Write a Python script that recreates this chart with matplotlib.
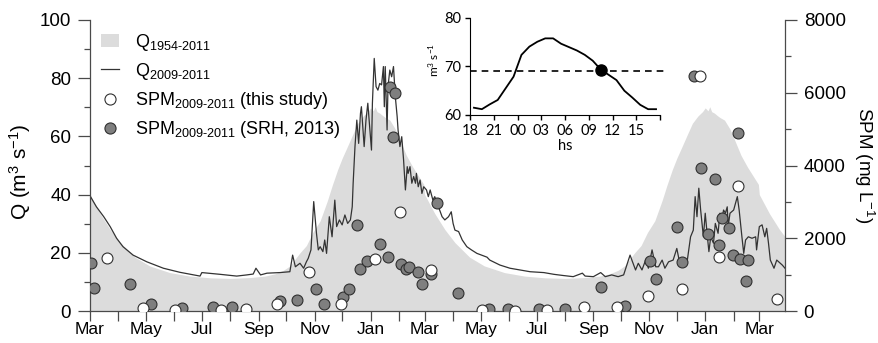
import numpy as np
import matplotlib.pyplot as plt
import matplotlib.dates as mdates
from matplotlib.patches import Patch
from matplotlib.lines import Line2D
from matplotlib.ticker import MultipleLocator, FuncFormatter

plt.rcParams['font.family'] = ['Liberation Sans', 'DejaVu Sans']
plt.rcParams['mathtext.fontset'] = 'custom'
plt.rcParams['mathtext.rm'] = 'Liberation Sans'
plt.rcParams['mathtext.it'] = 'Liberation Sans:italic'
plt.rcParams['mathtext.default'] = 'regular'

# days counted from 1 March 2009
start = np.datetime64('2009-03-01')

# Q 1954-2011 mean hydrograph (one hydrological year, from 1 March)
clim_day = [0, 11, 22, 33, 49, 65, 87, 109, 131, 153, 175, 191, 202, 211, 218, 229, 236,
            243, 251, 259, 264, 270, 275, 280, 287, 292, 298, 303, 306, 309, 311, 313, 316,
            319, 322, 327, 333, 338, 345, 352, 358, 364]
clim_q = [40.0, 33.5, 28.0, 23.5, 18.5, 15.5, 13.2, 12.0, 11.4, 11.2, 11.5, 12.0, 12.8,
          14.0, 15.5, 20.0, 22.5, 27.0, 31.0, 38.0, 43.0, 48.5, 52.5, 56.0, 61.0, 64.5,
          67.0, 68.5, 69.8, 68.8, 70.2, 68.5, 68.0, 67.2, 66.5, 65.6, 62.5, 58.8, 53.5,
          49.5, 46.5, 43.5]

# Q 2009-2011 daily discharge
q_day = [0, 7, 15, 22, 29, 36, 47, 62, 80, 98,
         120, 122, 142, 160, 171, 178, 181, 186, 193, 207,
         218, 221, 224, 229, 233, 236, 238, 241, 244, 247,
         249, 251, 254, 256, 258, 261, 264, 267, 269, 272,
         275, 278, 281, 284, 286, 287, 289, 291, 293, 295,
         296, 299, 301, 303, 305, 307, 308, 310, 312, 314,
         316, 318, 320, 321, 322, 324, 325, 327, 329, 331,
         333, 335, 336, 338, 340, 342, 344, 346, 347, 349,
         351, 353, 355, 356, 358, 360, 362, 364, 367, 369,
         371, 374, 376, 380, 384, 387, 391, 394, 396, 398,
         402, 406, 411, 416, 422, 427, 433, 436, 447, 458,
         469, 480, 495, 506, 516, 527, 537, 540, 549, 557,
         562, 569, 576, 582, 589, 595, 598, 602, 606, 609,
         613, 617, 620, 624, 627, 631, 636, 640, 644, 647,
         651, 655, 658, 660, 662, 664, 666, 669, 671, 673,
         675, 677, 680, 682, 685, 687, 689, 691, 693, 695,
         696, 698, 702, 706, 708, 711, 713, 715, 718, 722,
         726, 727, 730, 733, 736, 738, 740, 742, 746, 749,
         755, 758]
q_val = [39.6, 35.8, 32.4, 29.0, 25.0, 22.1, 19.2, 16.9, 14.7, 13.3,
         12.0, 13.2, 12.6, 12.0, 12.4, 12.7, 14.7, 12.4, 13.0, 13.2,
         13.5, 19.2, 15.2, 16.4, 14.7, 16.9, 18.1, 21.0, 37.6, 26.7,
         21.0, 22.1, 20.4, 24.4, 19.8, 32.4, 25.5, 38.1, 29.0, 31.3,
         29.6, 33.0, 30.1, 31.3, 35.8, 43.9, 56.5, 65.6, 57.6, 67.9,
         70.2, 56.5, 65.6, 71.4, 63.3, 55.3, 71.4, 86.8, 77.1, 75.9,
         78.2, 77.7, 84.0, 70.2, 84.0, 62.2, 77.1, 82.8, 80.5, 84.0,
         73.6, 66.8, 62.2, 56.5, 59.9, 51.9, 41.6, 49.6, 47.3, 49.6,
         43.9, 46.2, 43.9, 47.3, 42.7, 45.0, 40.4, 42.7, 41.6, 39.3,
         41.6, 38.1, 39.3, 35.8, 32.4, 31.3, 32.4, 34.1, 30.1, 27.8,
         27.3, 24.4, 22.1, 21.0, 19.8, 19.2, 18.5, 17.5, 15.8, 14.7,
         14.1, 13.5, 13.2, 12.6, 12.2, 11.8, 13.0, 12.0, 11.8, 13.2,
         11.8, 12.4, 11.8, 12.4, 19.2, 14.1, 16.4, 14.1, 17.5, 14.7,
         21.0, 15.2, 15.2, 17.5, 14.7, 16.9, 17.5, 21.5, 15.2, 17.5,
         16.4, 25.5, 27.8, 39.3, 32.4, 42.2, 34.7, 25.5, 33.6, 26.7,
         20.4, 25.5, 23.3, 30.1, 26.7, 33.6, 31.3, 34.7, 33.6, 35.8,
         29.0, 33.6, 34.7, 39.3, 34.7, 25.5, 19.8, 24.4, 25.5, 25.0,
         25.5, 21.0, 29.0, 29.6, 25.5, 28.4, 23.3, 17.5, 14.7, 17.5,
         15.8, 14.7]

# SPM (mg/L) - this study
spm_this_day = [19, 58, 93, 143, 170, 204, 239, 274, 311, 338, 372, 427, 464, 498, 539,
                575, 609, 646, 665, 686, 707, 749]
spm_this = [1449, 74, 27, 27, 55, 192, 1064, 192, 1438, 2730, 1127, 40, 9, 27, 119,
            119, 421, 605, 6460, 1476, 3445, 322]

# SPM (mg/L) - SRH 2013
spm_srh_day = [1, 4, 44, 66, 100, 134, 155, 207, 226, 246, 255, 276, 283, 291, 295, 302,
               316, 325, 327, 331, 333, 339, 345, 348, 358, 362, 372, 378, 401, 435, 456,
               490, 518, 557, 583, 611, 617, 640, 646, 659, 666, 674, 682, 686, 689, 697,
               701, 707, 709, 715, 718]
spm_srh = [1328, 641, 751, 183, 92, 110, 110, 266, 293, 605, 202, 376, 605, 2364, 1146,
           1383, 1833, 1484, 6149, 4775, 5985, 1292, 1146, 1218, 1080, 734, 1009, 2977,
           504, 47, 47, 64, 47, 651, 137, 1383, 871, 2300, 1347, 6460, 3923, 2117, 3621,
           1814, 2566, 2291, 1540, 4901, 1421, 833, 1402]

# inset: hourly discharge over one day
hour = [18.5, 19.5, 20.5, 21.5, 22.5, 23.5, 24.5, 25.5, 26.5, 27.5, 28.5, 29.5,
        30.5, 31.5, 32.5, 33.5, 34.5, 35.5, 36.5, 37.5, 38.5, 39.5, 40.5, 41.5]
hour_q = [61.5, 61.2, 62.2, 63.1, 65.5, 67.9, 72.4, 74.1, 75.1, 75.8, 75.8, 74.7,
          74.0, 73.3, 72.4, 71.2, 69.4, 68.3, 67.2, 65.0, 63.6, 62.1, 61.2, 61.2]
q_mean = 69.1
sample_hour = 34.5
sample_q = 69.2
hour_ticks = [18, 21, 24, 27, 30, 33, 36, 39, 42]
hour_labels = ['18', '21', '00', '03', '06', '09', '12', '15', '']


def to_dates(days):
    return start + np.array(days).astype('timedelta64[D]')


# repeat the mean year over the two plotted years
cd = np.array(clim_day)
cq = np.array(clim_q)
clim_all_day = np.concatenate([cd, cd + 365, cd[:5] + 730])
clim_all_q = np.concatenate([cq, cq, cq[:5]])

fig = plt.figure(figsize=(8.79, 3.43), dpi=100)
ax = fig.add_axes([90 / 879, 1 - 311 / 343, 695 / 879, 291 / 343])

ax.fill_between(to_dates(clim_all_day), 0, clim_all_q, color='#dcdcdc', lw=0)
ax.plot(to_dates(q_day), q_val, color='#333333', lw=0.9)
ax.set_ylim(0, 100)
ax.set_xlim(start, np.datetime64('2011-03-29'))

ax.xaxis.set_major_locator(mdates.MonthLocator())
ax.xaxis.set_major_formatter(FuncFormatter(
    lambda x, pos: mdates.num2date(x).strftime('%b') if mdates.num2date(x).month % 2 == 1 else ''))
ax.yaxis.set_major_locator(MultipleLocator(20))
ax.yaxis.set_minor_locator(MultipleLocator(10))

ax2 = ax.twinx()
ax2.scatter(to_dates(spm_srh_day), spm_srh, s=62, facecolor='#7f7f7f', edgecolor='#303030',
            lw=0.8, zorder=3)
ax2.scatter(to_dates(spm_this_day), spm_this, s=62, facecolor='white', edgecolor='#303030',
            lw=0.8, zorder=3)
ax2.set_ylim(0, 8000)
ax2.yaxis.set_major_locator(MultipleLocator(2000))
ax2.yaxis.set_minor_locator(MultipleLocator(1000))

for a in (ax, ax2):
    a.spines['top'].set_visible(False)
    for s in a.spines.values():
        s.set_color('#4a4a4a')
        s.set_linewidth(0.9)
    a.tick_params(which='major', direction='out', length=8.5, width=0.9, color='#4a4a4a',
                  labelsize=13.5, pad=5)
    a.tick_params(which='minor', direction='out', length=4.5, width=0.9, color='#4a4a4a')
ax.tick_params(axis='x', length=7, labelsize=12.5, pad=1)
ax.spines['right'].set_visible(False)
ax2.spines['left'].set_visible(False)
ax2.spines['bottom'].set_visible(False)

ax.set_ylabel(r'Q (m$^{3}$ s$^{-1}$)', fontsize=15)
ax.yaxis.set_label_coords(-0.082, 0.48)
ax2.set_ylabel(r'SPM (mg L$^{-1}$)', fontsize=13.5, rotation=270, va='bottom')
ax2.yaxis.set_label_coords(1.097, 0.5)

handles = [Patch(facecolor='#dcdcdc', edgecolor='none'),
           Line2D([], [], color='#333333', lw=0.9),
           Line2D([], [], ls='none', marker='o', ms=8, mfc='white', mec='#303030', mew=0.8),
           Line2D([], [], ls='none', marker='o', ms=8, mfc='#7f7f7f', mec='#303030', mew=0.8)]
labels = [r'Q$_{\text{1954-2011}}$', r'Q$_{\text{2009-2011}}$',
          r'SPM$_{\text{2009-2011}}$ (this study)', r'SPM$_{\text{2009-2011}}$ (SRH, 2013)']
ax2.legend(handles, labels, loc='upper left', bbox_to_anchor=(0.005, 0.985), frameon=False,
           fontsize=13, handlelength=1.0, handletextpad=0.9, labelspacing=0.45,
           borderaxespad=0)

# inset
axi = fig.add_axes([470 / 879, 1 - 115 / 343, 190 / 879, 97 / 343])
axi.patch.set_visible(False)
axi.plot(hour, hour_q, color='black', lw=1.3)
axi.axhline(q_mean, xmin=0, xmax=1.02, color='black', lw=1.2, ls=(0, (4, 3)), clip_on=False)
axi.plot([sample_hour], [sample_q], 'o', color='black', ms=8)
axi.set_xlim(18, 42)
axi.set_ylim(60, 80)
axi.set_xticks(hour_ticks)
axi.set_xticklabels(hour_labels)
axi.set_yticks([60, 70, 80])
axi.spines['top'].set_visible(False)
axi.spines['right'].set_visible(False)
for lab in axi.get_xticklabels() + axi.get_yticklabels():
    lab.set_family(['Lato', 'DejaVu Sans'])
axi.tick_params(direction='out', length=3.5, width=1, labelsize=10.5, pad=3)
axi.set_xlabel('hs', fontsize=10.5, family=['Lato', 'DejaVu Sans'], labelpad=1)
axi.set_ylabel(r'm$^{3}$ s$^{-1}$', fontsize=8.5, family=['Lato', 'DejaVu Sans'])
axi.yaxis.set_label_coords(-0.15, 0.57)

plt.savefig('out.png', dpi=100)
